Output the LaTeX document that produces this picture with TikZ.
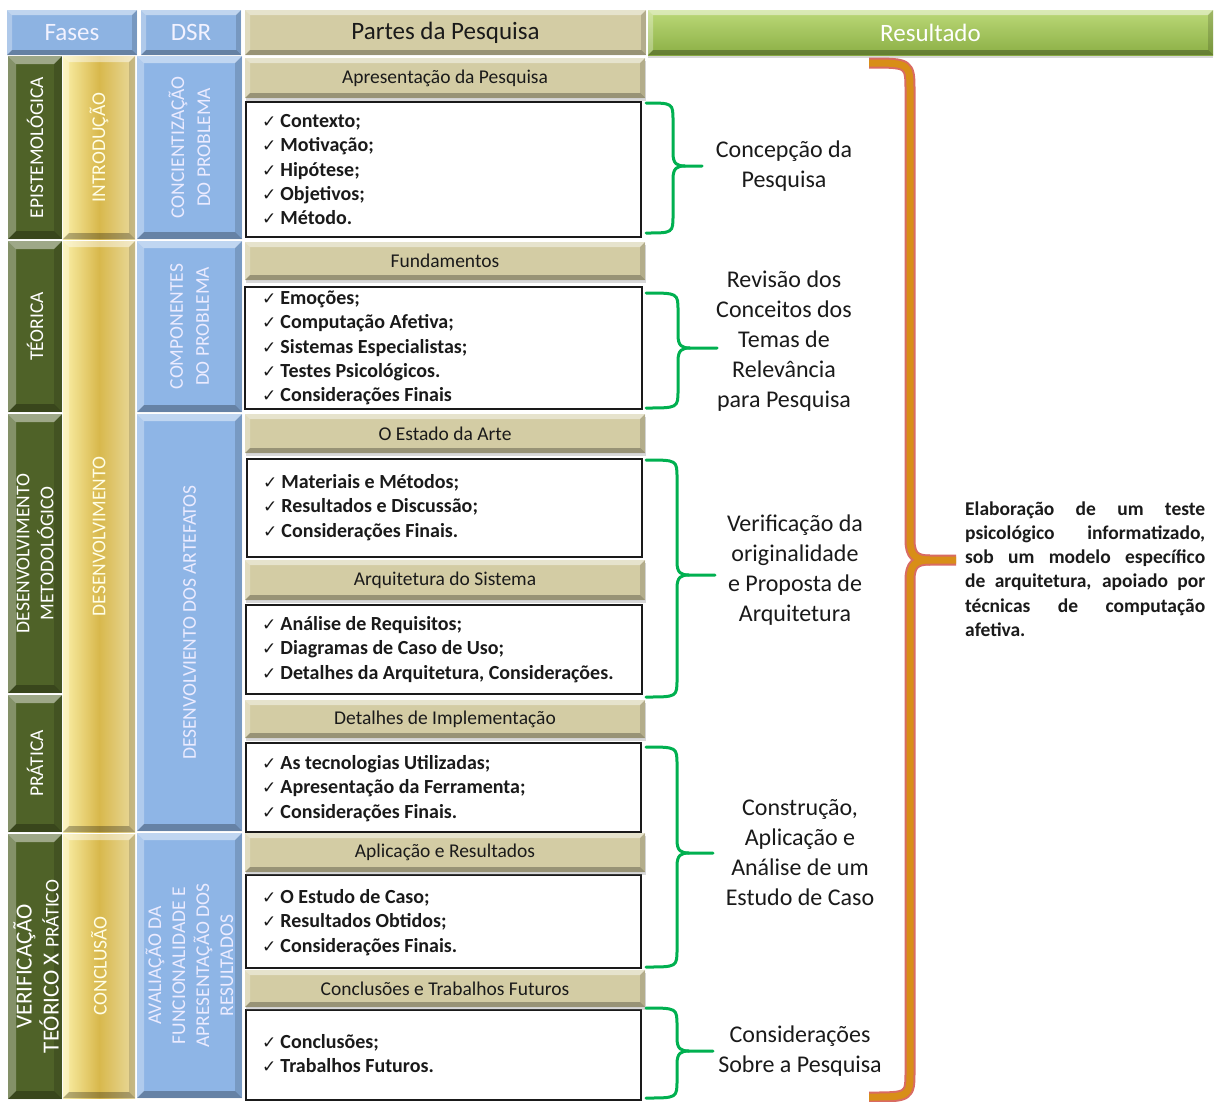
\documentclass[tikz,border=0pt]{standalone}
\usepackage{fontspec}
\setmainfont{Carlito}
\newfontfamily\symfont{DejaVu Sans}
\usetikzlibrary{shadows}

\definecolor{hdrblue}{HTML}{8DB3E2}
\definecolor{colblue}{HTML}{8EB5E6}
\definecolor{colgreen}{HTML}{4F6228}
\definecolor{tanbox}{HTML}{D3CCA4}
\definecolor{resgreenA}{HTML}{BCD978}
\definecolor{resgreenB}{HTML}{8BAF45}
\definecolor{goldL}{HTML}{FBF0A8}
\definecolor{goldM}{HTML}{D8B84C}
\definecolor{goldR}{HTML}{E9DA9E}
\definecolor{bracegreen}{HTML}{00B050}
\definecolor{braceorange}{HTML}{D88E18}
\definecolor{braceedge}{HTML}{D96B63}
\definecolor{ink}{HTML}{1A1A1A}

% check mark used in front of every list item
\newcommand\ck{{\symfont\fontsize{17}{17}\selectfont ✓}\hspace{4pt}}

% block with its top-left and bottom-right corners in pixel units
\newcommand\blk[7]{\node[#6, anchor=north west, minimum width={(#4-#2)*1pt},
  minimum height={(#5-#3)*1pt}] (#1) at (#2,#3) {#7};}

% curly brace: x start, y top, y bottom, x of the stem, x of the tip, y of the tip
\newcommand\gbrace[6]{%
  \draw[gbr] (#1,#2) .. controls (#4,#2) .. (#4,{#2+18}) -- (#4,{#6-13})
     .. controls (#4,{#6-2}) and ({#4+4},#6) .. ({#4+12},#6) -- (#5,#6);
  \draw[gbr] ({#4+12},#6) .. controls ({#4+4},#6) and (#4,{#6+2}) .. (#4,{#6+13})
     -- (#4,{#3-18}) .. controls (#4,#3) .. (#1,#3);}

\tikzset{
  bev/.style={path picture={
    \fill[white,opacity=.45] (path picture bounding box.north west) -- (path picture bounding box.north east)
      -- ([xshift=-#1,yshift=-#1]path picture bounding box.north east) -- ([xshift=#1,yshift=-#1]path picture bounding box.north west) -- cycle;
    \fill[white,opacity=.3] (path picture bounding box.north west) -- ([xshift=#1,yshift=-#1]path picture bounding box.north west)
      -- ([xshift=#1,yshift=#1]path picture bounding box.south west) -- (path picture bounding box.south west) -- cycle;
    \fill[black,opacity=.28] (path picture bounding box.south west) -- ([xshift=#1,yshift=#1]path picture bounding box.south west)
      -- ([xshift=-#1,yshift=#1]path picture bounding box.south east) -- (path picture bounding box.south east) -- cycle;
    \fill[black,opacity=.15] (path picture bounding box.north east) -- ([xshift=-#1,yshift=-#1]path picture bounding box.north east)
      -- ([xshift=-#1,yshift=#1]path picture bounding box.south east) -- (path picture bounding box.south east) -- cycle;
  }},
  bev/.default=6pt,
  base/.style={inner sep=0pt, outer sep=0pt},
  hdr/.style={base, fill=hdrblue, bev=5pt, text=white!95!blue, font=\fontsize{25}{25}\selectfont},
  hdrtan/.style={base, fill=tanbox, bev=5pt, text=ink, font=\fontsize{25}{25}\selectfont},
  hdrres/.style={base, top color=resgreenA, bottom color=resgreenB, bev=5pt, text=white,
    font=\fontsize{25}{25}\selectfont, drop shadow={shadow xshift=0pt, shadow yshift=-3pt, opacity=.3}},
  sect/.style={base, fill=tanbox, bev=5pt, text=ink, font=\fontsize{19.5}{19.5}\selectfont,
    drop shadow={shadow xshift=1pt, shadow yshift=-3pt, opacity=.3}},
  listbox/.style={base, fill=white, draw=ink, line width=1.2pt},
  lst/.style={inner sep=0pt, anchor=north west, align=left, text=ink,
    font=\fontsize{20}{24.25}\selectfont\bfseries},
  phase/.style={base, fill=colgreen, bev=8pt},
  gold/.style={base, left color=goldL, right color=goldR, middle color=goldM, bev=6pt},
  dsr/.style={base, fill=colblue, bev=7pt},
  coltxt/.style={rotate=90, align=center, inner sep=0pt, font=\fontsize{19.5}{25}\selectfont},
  lbl/.style={align=center, inner sep=0pt, text=ink, font=\fontsize{24}{30}\selectfont},
  gbr/.style={draw=bracegreen, line width=3pt, line cap=round, line join=round},
}

\begin{document}
\begin{tikzpicture}[x=1pt, y=-1pt]
\useasboundingbox (0,0) rectangle (1214,1101);
\fill[white] (0,0) rectangle (1214,1101);

% ---- header row
\blk{hfases}{7}{10}{137}{55}{hdr}{Fases}
\blk{hdsr}{141}{10}{241}{55}{hdr}{DSR}
\blk{hpartes}{245}{10}{646}{55}{hdrtan}{Partes da Pesquisa}
\blk{hres}{648}{10}{1213}{55}{hdrres}{Resultado}

% ---- phases (green)
\blk{f1}{8}{56}{62}{239}{phase}{}
\blk{f2}{8}{241}{62}{412}{phase}{}
\blk{f3}{8}{414}{62}{693}{phase}{}
\blk{f4}{8}{695}{62}{832}{phase}{}
\blk{f5}{8}{834}{62}{1099}{phase}{}
\node[coltxt, text=white] at (f1.center) {EPISTEMOLÓGICA};
\node[coltxt, text=white] at (f2.center) {TÉORICA};
\node[coltxt, text=white, font=\fontsize{19.5}{24}\selectfont] at (f3.center) {DESENVOLVIMENTO\\METODOLÓGICO};
\node[coltxt, text=white] at (f4.center) {PRÁTICA};
\node[coltxt, text=white, font=\fontsize{23}{27}\selectfont] at ([xshift=1pt]f5.center)
  {VERIFICAÇÃO\\TEÓRICO X {\fontsize{19.5}{19.5}\selectfont PRÁTICO}};

% ---- chapters (gold)
\blk{c1}{63}{56}{135}{239}{gold}{}
\blk{c2}{63}{241}{135}{832}{gold}{}
\blk{c3}{63}{834}{135}{1098}{gold}{}
\node[coltxt, text=white!90!yellow] at (c1.center) {INTRODUÇÃO};
\node[coltxt, text=white!90!yellow] at (c2.center) {DESENVOLVIMENTO};
\node[coltxt, text=white!90!yellow] at (c3.center) {CONCLUSÃO};

% ---- DSR steps (blue)
\blk{d1}{137}{56}{242}{239}{dsr}{}
\blk{d2}{137}{241}{242}{412}{dsr}{}
\blk{d3}{137}{414}{242}{831}{dsr}{}
\blk{d4}{137}{833}{242}{1098}{dsr}{}
\node[coltxt, text=white!92!blue, font=\fontsize{19.5}{26}\selectfont] at (d1.center) {CONCIENTIZAÇÃO\\DO PROBLEMA};
\node[coltxt, text=white!92!blue, font=\fontsize{19.5}{26}\selectfont] at (d2.center) {COMPONENTES\\DO PROBLEMA};
\node[coltxt, text=white!92!blue] at (d3.center) {DESENVOLVIENTO DOS ARTEFATOS};
\node[coltxt, text=white!92!blue, font=\fontsize{19.5}{24}\selectfont] at (d4.center)
  {AVALIAÇÃO DA\\FUNCIONALIDADE E\\APRESENTAÇÃO DOS\\RESULTADOS};

% ---- list boxes
\blk{b1}{246}{102}{641}{237}{listbox}{}
\blk{b2}{245}{287}{642}{409}{listbox}{}
\blk{b3}{247}{459}{642}{557}{listbox}{}
\blk{b4}{246}{605}{642}{694}{listbox}{}
\blk{b5}{246}{743}{641}{832}{listbox}{}
\blk{b6}{246}{875}{641}{968}{listbox}{}
\blk{b7}{246}{1010}{641}{1100}{listbox}{}

\node[lst] (l1) at (262,110.5) {\rule{0pt}{17pt}\ck Contexto;\\\ck Motivação;\\\ck Hipótese;\\\ck Objetivos;\\\ck Método.};
\node[lst] (l2) at (262,287.5) {\rule{0pt}{17pt}\ck Emoções;\\\ck Computação Afetiva;\\\ck Sistemas Especialistas;\\\ck Testes Psicológicos.\\\ck Considerações Finais};
\node[lst] (l3) at (263,471.5) {\rule{0pt}{17pt}\ck Materiais e Métodos;\\\ck Resultados e Discussão;\\\ck Considerações Finais.};
\node[lst] (l4) at (262,613.5) {\rule{0pt}{17pt}\ck Análise de Requisitos;\\\ck Diagramas de Caso de Uso;\\\ck Detalhes da Arquitetura, Considerações.};
\node[lst] (l5) at (262,752.5) {\rule{0pt}{17pt}\ck As tecnologias Utilizadas;\\\ck Apresentação da Ferramenta;\\\ck Considerações Finais.};
\node[lst] (l6) at (262,886.5) {\rule{0pt}{17pt}\ck O Estudo de Caso;\\\ck Resultados Obtidos;\\\ck Considerações Finais.};
\node[lst] (l7) at (262,1031.5) {\rule{0pt}{17pt}\ck Conclusões;\\\ck Trabalhos Futuros.};

% ---- section headers
\blk{s1}{245}{58}{645}{98}{sect}{Apresentação da Pesquisa}
\blk{s2}{245}{242}{645}{280}{sect}{Fundamentos}
\blk{s3}{245}{414}{645}{453}{sect}{O Estado da Arte}
\blk{s4}{245}{560}{645}{600}{sect}{Arquitetura do Sistema}
\blk{s5}{245}{700}{645}{738}{sect}{Detalhes de Implementação}
\blk{s6}{245}{833}{645}{872}{sect}{Aplicação e Resultados}
\blk{s7}{245}{970}{645}{1007}{sect}{Conclusões e Trabalhos Futuros}

% ---- green braces and their labels
\gbrace{646}{103}{233}{673}{702}{166}
\gbrace{646}{293}{408}{678}{717}{348}
\gbrace{646}{460}{697}{677}{715}{575}
\gbrace{646}{747}{967}{677}{713}{853}
\gbrace{646}{1008}{1098}{677}{713}{1051}

\node[lbl] (r1) at (784,166) {Concepção da\\Pesquisa};
\node[lbl] (r2) at (784,341.5) {Revisão dos\\Conceitos dos\\Temas de\\Relevância\\para Pesquisa};
\node[lbl] (r3) at (795,570) {Verificação da\\originalidade\\e Proposta de\\Arquitetura};
\node[lbl] (r4) at (800,852.5) {Construção,\\Aplicação e\\Análise de um\\Estudo de Caso};
\node[lbl] (r5) at (800,1051) {Considerações\\Sobre a Pesquisa};

% ---- large brace towards the result
\foreach \w/\c in {11pt/braceedge, 7pt/braceorange}{
  \draw[line width=\w, draw=\c, line join=round]
    (869,63) .. controls (910,63) .. (910,92) -- (910,540)
    .. controls (910,556) and (916,560) .. (930,560) -- (956,560);
  \draw[line width=\w, draw=\c, line join=round]
    (930,560) .. controls (916,560) and (910,564) .. (910,580) -- (910,1070)
    .. controls (910,1097) .. (869,1097);
}

\node[inner sep=0pt, anchor=north west, text width=240pt, align=justify, text=ink,
  font=\fontsize{19.5}{24.2}\selectfont\bfseries] (res) at (965,498)
  {\rule{0pt}{17pt}Elaboração de um teste\linebreak psicológico informatizado,\linebreak sob um modelo específico\linebreak de arquitetura, apoiado por\linebreak técnicas de computação\linebreak afetiva.};
\end{tikzpicture}
\end{document}
